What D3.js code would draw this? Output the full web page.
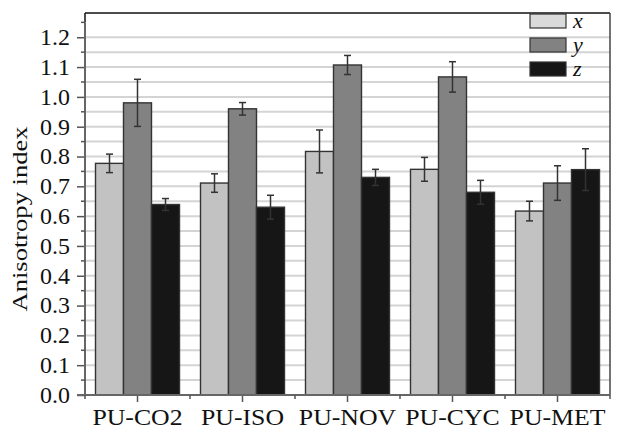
<!DOCTYPE html>
<html><head><meta charset="utf-8">
<script src="https://cdn.jsdelivr.net/npm/d3@7"></script>
<style>
html,body{margin:0;padding:0;background:#fff;}
svg{display:block;}
text{font-family:"Liberation Serif","Times New Roman",serif;fill:#111;}
</style></head>
<body>
<svg id="c" width="618" height="432"></svg>
<script>
const categories = ["PU-CO2","PU-ISO","PU-NOV","PU-CYC","PU-MET"];
const seriesNames = ["x","y","z"];
const xValues = [0.777, 0.711, 0.817, 0.757, 0.617];
const yValues = [0.980, 0.960, 1.107, 1.067, 0.711];
const zValues = [0.639, 0.630, 0.730, 0.680, 0.756];
const xErr = [0.031, 0.031, 0.072, 0.040, 0.033];
const yErr = [0.079, 0.021, 0.032, 0.051, 0.058];
const zErr = [0.020, 0.040, 0.027, 0.040, 0.070];
const yTickLabels = ["0.0","0.1","0.2","0.3","0.4","0.5","0.6","0.7","0.8","0.9","1.0","1.1","1.2"];
const colors = ["#c2c2c2","#828282","#161616"];
const legendColors = ["#dadada","#828282","#161616"];

const values = [xValues, yValues, zValues];
const errs = [xErr, yErr, zErr];

const svg = d3.select("#c");
const L = 85, R = 610, T = 13, B = 395;

const y = d3.scaleLinear().domain([0, 1.2814]).range([B, T]);
const x0 = d3.scaleBand().domain(categories).range([L, R]).paddingInner(0.2).paddingOuter(0.1);
const bandStep = x0.step();
const x1 = d3.scaleBand().domain(seriesNames).range([0, x0.bandwidth()]);

// gridlines every 0.05
const gridVals = d3.range(1, 25).map(i => i * 0.05);
svg.append("g").selectAll("line").data(gridVals).join("line")
  .attr("x1", L).attr("x2", R)
  .attr("y1", d => y(d)).attr("y2", d => y(d))
  .attr("stroke", "#d4d4d4").attr("stroke-width", 2);

// frame top & right
svg.append("line").attr("x1", L).attr("x2", R).attr("y1", T).attr("y2", T)
  .attr("stroke", "#111").attr("stroke-width", 1.5);
svg.append("line").attr("x1", R).attr("x2", R).attr("y1", T).attr("y2", B)
  .attr("stroke", "#444").attr("stroke-width", 1.5);
svg.append("line").attr("x1", L).attr("x2", L).attr("y1", T).attr("y2", y(1.25))
  .attr("stroke", "#111").attr("stroke-width", 1.5);

// bars
seriesNames.forEach((s, si) => {
  svg.append("g").selectAll("rect").data(categories).join("rect")
    .attr("x", (c) => x0(c) + x1(s))
    .attr("y", (c, i) => y(values[si][i]))
    .attr("width", x1.bandwidth())
    .attr("height", (c, i) => B - y(values[si][i]))
    .attr("fill", colors[si])
    .attr("stroke", "#333").attr("stroke-width", 1.4);
});

// error bars
seriesNames.forEach((s, si) => {
  const g = svg.append("g").attr("stroke", "#333").attr("stroke-width", 1.5);
  categories.forEach((c, i) => {
    const cx = x0(c) + x1(s) + x1.bandwidth() / 2;
    const v = values[si][i], e = errs[si][i];
    g.append("line").attr("x1", cx).attr("x2", cx).attr("y1", y(v + e)).attr("y2", y(v - e));
    g.append("line").attr("x1", cx - 3.5).attr("x2", cx + 3.5).attr("y1", y(v + e)).attr("y2", y(v + e));
    g.append("line").attr("x1", cx - 3.5).attr("x2", cx + 3.5).attr("y1", y(v - e)).attr("y2", y(v - e));
  });
});

// y axis
const yAxis = d3.axisLeft(y).tickValues(d3.range(0, 13).map(i => i / 10))
  .tickFormat((d, i) => yTickLabels[i]).tickSize(8).tickPadding(7);
const ya = svg.append("g").attr("transform", `translate(${L},0)`).call(yAxis);
ya.select(".domain").remove();
ya.selectAll("line").attr("stroke", "#555").attr("stroke-width", 1.5);
ya.selectAll("text").style("font-family", '"Liberation Serif",serif').style("font-size", "23px").attr("fill", "#111")
  .each(function(){ const w = this.getComputedTextLength(); d3.select(this).attr("textLength", w * 1.04).attr("lengthAdjust", "spacingAndGlyphs"); });
svg.append("line").attr("x1", L).attr("x2", L).attr("y1", B).attr("y2", y(1.25))
  .attr("stroke", "#666").attr("stroke-width", 2);
// minor y ticks
const minorY = d3.range(0, 13).map(i => i / 10 + 0.05);
svg.append("g").selectAll("line").data(minorY).join("line")
  .attr("x1", L - 4).attr("x2", L).attr("y1", d => y(d)).attr("y2", d => y(d))
  .attr("stroke", "#555").attr("stroke-width", 1.5);

// x axis
const xa = svg.append("g").attr("transform", `translate(0,${B})`)
  .call(d3.axisBottom(x0).tickSize(7).tickPadding(7));
xa.select(".domain").remove();
xa.selectAll("line").attr("stroke", "#555").attr("stroke-width", 1.5);
xa.selectAll("text").style("font-family", '"Liberation Serif",serif').style("font-size", "23px").attr("fill", "#111")
  .each(function(){ const w = this.getComputedTextLength(); d3.select(this).attr("textLength", w * 1.12).attr("lengthAdjust", "spacingAndGlyphs"); });
svg.append("line").attr("x1", L - 8).attr("x2", R).attr("y1", B).attr("y2", B)
  .attr("stroke", "#666").attr("stroke-width", 2);
// minor x ticks at band boundaries
const bounds = d3.range(0, categories.length + 1).map(i => L + i * bandStep);
svg.append("g").selectAll("line").data(bounds).join("line")
  .attr("x1", d => d).attr("x2", d => d).attr("y1", B).attr("y2", B + 4)
  .attr("stroke", "#555").attr("stroke-width", 1.5);

// y title
svg.append("text").attr("transform", `translate(27,219) rotate(-90)`)
  .attr("text-anchor", "middle").style("font-size", "22px")
  .attr("textLength", 185).attr("lengthAdjust", "spacingAndGlyphs")
  .text("Anisotropy index");

// legend
const lg = svg.append("g");
seriesNames.forEach((s, i) => {
  lg.append("rect").attr("x", 530).attr("y", 14 + i * 24).attr("width", 36).attr("height", 14)
    .attr("fill", legendColors[i]).attr("stroke", "#333").attr("stroke-width", 1.2);
  lg.append("text").attr("x", 573).attr("y", 28 + i * 24)
    .style("font-size", "22px").style("font-style", "italic").text(s);
});
</script>
</body></html>
